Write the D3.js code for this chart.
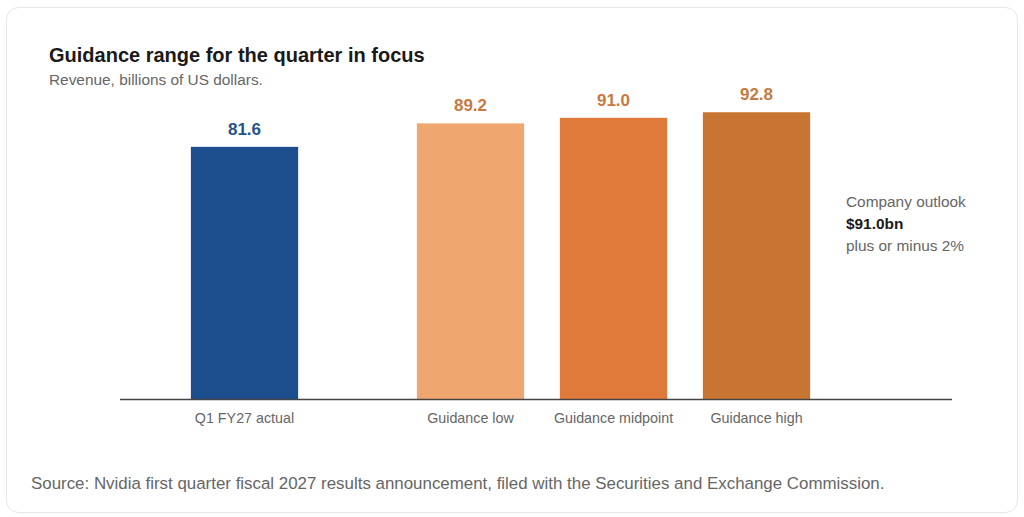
<!DOCTYPE html>
<html>
<head>
<meta charset="utf-8">
<script src="https://cdn.jsdelivr.net/npm/d3@7/dist/d3.min.js"></script>
<style>
  html, body { margin: 0; padding: 0; background: #fff; }
  svg { display: block; font-family: "Liberation Sans", Arial, sans-serif; }
</style>
</head>
<body>
<svg id="chart" width="1024" height="517"></svg>
<script>
// chart values
const categories = ["Q1 FY27 actual", "Guidance low", "Guidance midpoint", "Guidance high"];
const values = [81.6, 89.2, 91.0, 92.8];
const barColors = ["#1c4d8c", "#f0a76f", "#e07a3b", "#c77531"];
const labelColors = ["#24538c", "#c77a3e", "#c77a3e", "#c77a3e"];
const outlookLines = ["Company outlook", "$91.0bn", "plus or minus 2%"];

const data = categories.map((c, i) => ({ category: c, value: values[i], color: barColors[i], labelColor: labelColors[i] }));

const svg = d3.select("#chart");

// card
svg.append("rect")
  .attr("x", 6.5).attr("y", 7.5)
  .attr("width", 1011).attr("height", 505)
  .attr("rx", 12)
  .attr("fill", "#fff")
  .attr("stroke", "#e6e6e6");

svg.append("text")
  .attr("x", 49).attr("y", 62)
  .style("font-size", "20px").style("font-weight", "bold")
  .attr("fill", "#1a1a1a")
  .text("Guidance range for the quarter in focus");

svg.append("text")
  .attr("x", 49).attr("y", 85)
  .style("font-size", "15.4px")
  .attr("fill", "#666")
  .text("Revenue, billions of US dollars.");

// plot area
const axisLeft = 120, axisRight = 952, baseline = 399;
const groupGap = 83;   // extra gap between actual and guidance bars

const x = d3.scaleBand()
  .domain(categories)
  .range([173, 173 + 143 * 4])
  .paddingInner(0.25)
  .paddingOuter(0.125);

const xPos = d => x(d.category) + (d.category === categories[0] ? 0 : groupGap);

const y = d3.scaleLinear().domain([0, 100]).range([baseline, 90]);

svg.selectAll(".bar")
  .data(data)
  .enter().append("rect")
    .attr("class", "bar")
    .attr("x", d => xPos(d))
    .attr("width", x.bandwidth())
    .attr("y", d => y(d.value))
    .attr("height", d => baseline - y(d.value))
    .attr("fill", d => d.color);

svg.selectAll(".val")
  .data(data)
  .enter().append("text")
    .attr("class", "val")
    .attr("x", d => xPos(d) + x.bandwidth() / 2)
    .attr("y", d => y(d.value) - 12)
    .attr("text-anchor", "middle")
    .style("font-size", "17px").style("font-weight", "bold")
    .attr("fill", d => d.labelColor)
    .text(d => d.value.toFixed(1));

// baseline
svg.append("line")
  .attr("x1", axisLeft).attr("x2", axisRight)
  .attr("y1", baseline + 0.5).attr("y2", baseline + 0.5)
  .attr("stroke", "#444").attr("stroke-width", 1.6);

svg.selectAll(".cat")
  .data(data)
  .enter().append("text")
    .attr("class", "cat")
    .attr("x", d => xPos(d) + x.bandwidth() / 2)
    .attr("y", 423)
    .attr("text-anchor", "middle")
    .style("font-size", "14.3px")
    .attr("fill", "#666")
    .text(d => d.category);

// outlook annotation
svg.selectAll(".outlook")
  .data(outlookLines)
  .enter().append("text")
    .attr("class", "outlook")
    .attr("x", 846)
    .attr("y", (d, i) => 207 + i * 22)
    .style("font-size", "15.4px")
    .style("font-weight", (d, i) => i === 1 ? "bold" : "normal")
    .attr("fill", (d, i) => i === 1 ? "#1a1a1a" : "#666")
    .text(d => d);

svg.append("text")
  .attr("x", 31).attr("y", 489)
  .style("font-size", "16.9px")
  .attr("fill", "#666")
  .text("Source: Nvidia first quarter fiscal 2027 results announcement, filed with the Securities and Exchange Commission.");
</script>
</body>
</html>
